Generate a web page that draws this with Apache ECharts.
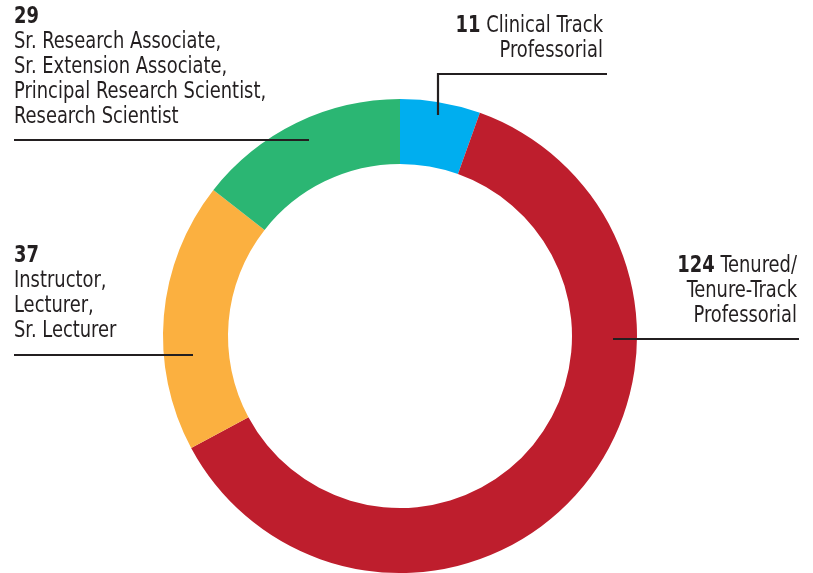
<!DOCTYPE html>
<html>
<head>
<meta charset="utf-8">
<script src="https://cdn.jsdelivr.net/npm/echarts@6/dist/echarts.min.js"></script>
<style>
  html, body { margin: 0; padding: 0; background: #fff; }
  #chart { width: 813px; height: 573px; }
</style>
</head>
<body>
<div id="chart"></div>
<script>
// data
const categories = [
  'Clinical Track Professorial',
  'Tenured/Tenure-Track Professorial',
  'Instructor, Lecturer, Sr. Lecturer',
  'Sr. Research Associate, Sr. Extension Associate, Principal Research Scientist, Research Scientist'
];
const values = [11, 124, 37, 29];
const colors = ['#00aeef', '#be1e2d', '#fbb040', '#2bb673'];
const labelRows = [
  ['Clinical Track', 'Professorial'],
  ['Tenured/', 'Tenure-Track', 'Professorial'],
  ['Instructor,', 'Lecturer,', 'Sr. Lecturer'],
  ['Sr. Research Associate,', 'Sr. Extension Associate,', 'Principal Research Scientist,', 'Research Scientist']
];

const FONT = '"DejaVu Sans Condensed", "Liberation Sans Narrow", "Roboto", sans-serif';
const INK = '#231f20';
const SQUEEZE = 0.865; // condensed look of the original typeface
const rich = {
  n: { fontFamily: FONT, fontSize: 23, fontWeight: 'bold', color: INK, lineHeight: 25 },
  t: { fontFamily: FONT, fontSize: 23, color: INK, lineHeight: 25 }
};

// number inline with first row (right side labels)
function inlineLabel(i) {
  const rows = labelRows[i].map(r => '{t|' + r + '}');
  rows[0] = '{n|' + values[i] + '}  ' + rows[0];
  return rows.join('\n');
}
// number on its own row (left side labels)
function stackedLabel(i) {
  return ['{n|' + values[i] + '}'].concat(labelRows[i].map(r => '{t|' + r + '}')).join('\n');
}

function textEl(x, y, text, align) {
  return {
    type: 'text', x: x, y: y, z: 100, scaleX: SQUEEZE, silent: true,
    style: { text: text, rich: rich, align: align, verticalAlign: 'top', fill: INK }
  };
}
function leader(points) {
  return {
    type: 'polyline', z: 100, silent: true,
    shape: { points: points },
    style: { stroke: INK, lineWidth: 2.2, fill: null }
  };
}

const chart = echarts.init(document.getElementById('chart'));
chart.setOption({
  animation: false,
  color: colors,
  series: [{
    type: 'pie',
    center: [400, 336],
    radius: [172, 237],
    startAngle: 90,
    clockwise: true,
    silent: true,
    z: 1,
    label: { show: false },
    labelLine: { show: false },
    itemStyle: { borderWidth: 0 },
    data: categories.map((c, i) => ({ name: c, value: values[i] }))
  }],
  graphic: [
    textEl(14, 5, stackedLabel(3), 'left'),
    leader([[14, 140], [309, 140]]),
    textEl(603, 14, inlineLabel(0), 'right'),
    leader([[438, 115], [438, 74], [607, 74]]),
    textEl(14, 244, stackedLabel(2), 'left'),
    leader([[14, 355], [193, 355]]),
    textEl(797, 254, inlineLabel(1), 'right'),
    leader([[613, 339], [799, 339]])
  ]
});
</script>
</body>
</html>
